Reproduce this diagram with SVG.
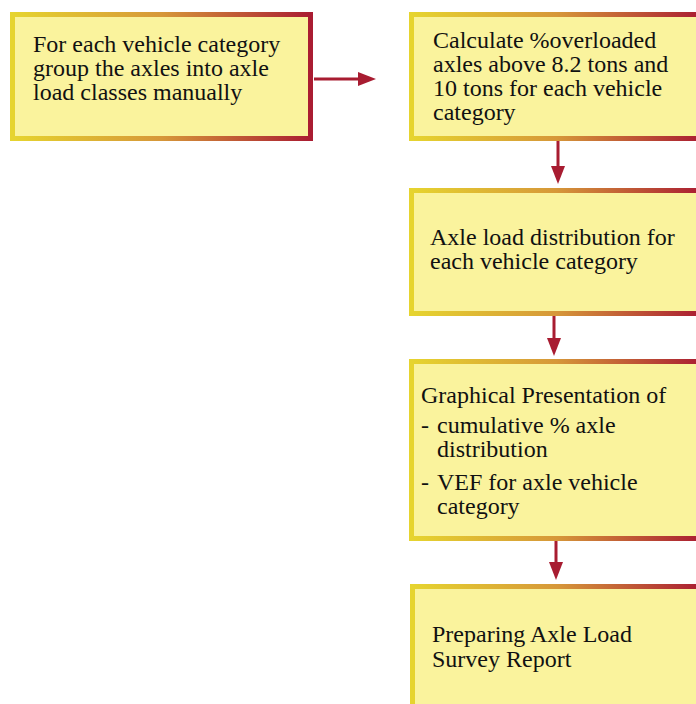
<svg xmlns="http://www.w3.org/2000/svg" width="696" height="704" viewBox="0 0 696 704">
  <defs>
    <linearGradient id="edge" x1="0" y1="0" x2="1" y2="0">
      <stop offset="0" stop-color="#E6D42F"/>
      <stop offset="0.5" stop-color="#D69739"/>
      <stop offset="1" stop-color="#AA1C32"/>
    </linearGradient>
    <marker id="head" markerUnits="userSpaceOnUse" markerWidth="18" markerHeight="14" refX="0" refY="7" orient="auto">
      <path d="M0,0 L18,7 L0,14 Z" fill="#A81C31"/>
    </marker>
    <style>
      .box { fill: #FAF39D; stroke: url(#edge); stroke-width: 5; }
      .lbl { font-family: "Liberation Serif", "Times New Roman", serif; font-size: 24px; fill: #111; }
      .link { stroke: #A81C31; stroke-width: 3; fill: none; marker-end: url(#head); }
    </style>
  </defs>

  <g id="connectors">
    <line class="link" x1="314" y1="79" x2="358" y2="79"/>
    <line class="link" x1="558" y1="141" x2="558" y2="166"/>
    <line class="link" x1="554" y1="316" x2="554" y2="338"/>
    <line class="link" x1="556" y1="541" x2="556" y2="562"/>
  </g>

  <g id="group-axles">
    <rect class="box" x="12.5" y="14.5" width="298" height="124"/>
    <text class="lbl" x="33" y="52">For each vehicle category</text>
    <text class="lbl" x="33" y="76">group the axles into axle</text>
    <text class="lbl" x="33" y="100">load classes manually</text>
  </g>

  <g id="overloaded">
    <rect class="box" x="411.5" y="14.5" width="290" height="124"/>
    <text class="lbl" x="433" y="48">Calculate %overloaded</text>
    <text class="lbl" x="433" y="72">axles above 8.2 tons and</text>
    <text class="lbl" x="433" y="96">10 tons for each vehicle</text>
    <text class="lbl" x="433" y="120">category</text>
  </g>

  <g id="distribution">
    <rect class="box" x="411.5" y="190.5" width="290" height="123"/>
    <text class="lbl" x="430" y="245">Axle load distribution for</text>
    <text class="lbl" x="430" y="269">each vehicle category</text>
  </g>

  <g id="graphs">
    <rect class="box" x="411.5" y="361.5" width="290" height="177"/>
    <text class="lbl" x="421" y="403">Graphical Presentation of</text>
    <text class="lbl" x="421" y="433">-</text>
    <text class="lbl" x="437" y="433">cumulative % axle</text>
    <text class="lbl" x="437" y="457">distribution</text>
    <text class="lbl" x="421" y="490">-</text>
    <text class="lbl" x="437" y="490">VEF for axle vehicle</text>
    <text class="lbl" x="437" y="514">category</text>
  </g>

  <g id="report">
    <rect class="box" x="412.5" y="586.5" width="290" height="130"/>
    <text class="lbl" x="432" y="642">Preparing Axle Load</text>
    <text class="lbl" x="432" y="667">Survey Report</text>
  </g>
</svg>
